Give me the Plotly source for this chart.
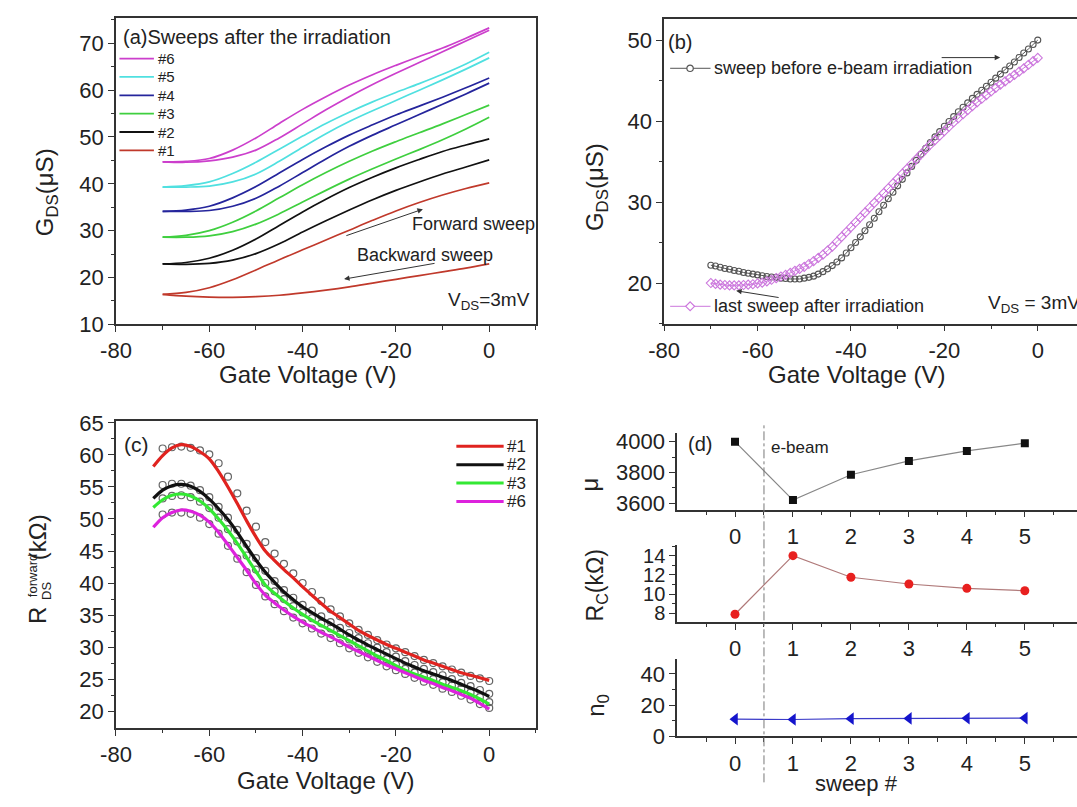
import plotly.graph_objects as go

W, H = 1077, 807
FONT = "Liberation Sans, Arial, Helvetica, sans-serif"
INK = "#222222"
AXC = "#333333"

# ---------------- (a) G_DS vs gate voltage, sweeps after irradiation ----------------
vg_a = [-70, -65, -60, -55, -50, -45, -40, -35, -30, -25, -20, -15, -10, -5, 0]
sweep_names_a = ["#1", "#2", "#3", "#4", "#5", "#6"]
sweep_colors_a = ["#c0392b", "#111111", "#3fcf3f", "#25259c", "#50e0e0", "#cc3fcc"]
g_fwd_1 = [16.4, 16.8, 17.8, 19.5, 21.6, 23.8, 25.9, 28.0, 30.1, 32.2, 34.2, 36.0, 37.6, 39.0, 40.2]
g_bwd_1 = [16.4, 16.0, 15.8, 15.75, 15.9, 16.2, 16.7, 17.3, 18.0, 18.8, 19.6, 20.4, 21.2, 22.0, 22.9]
g_fwd_2 = [22.9, 23.2, 24.1, 25.8, 28.2, 31.1, 34.0, 36.7, 39.2, 41.4, 43.4, 45.2, 46.9, 48.3, 49.6]
g_bwd_2 = [22.9, 22.8, 23.0, 23.7, 25.1, 27.2, 29.7, 32.1, 34.4, 36.6, 38.6, 40.4, 42.1, 43.6, 45.1]
g_fwd_3 = [28.6, 29.0, 30.0, 31.8, 34.2, 37.0, 39.8, 42.4, 44.8, 47.0, 49.0, 50.9, 52.8, 54.8, 56.8]
g_bwd_3 = [28.6, 28.6, 28.9, 29.8, 31.4, 33.6, 36.1, 38.6, 41.0, 43.2, 45.3, 47.3, 49.4, 51.7, 54.2]
g_fwd_4 = [34.1, 34.4, 35.2, 37.0, 39.4, 42.3, 45.2, 47.9, 50.4, 52.6, 54.7, 56.6, 58.5, 60.5, 62.6]
g_bwd_4 = [34.1, 34.1, 34.3, 35.2, 36.9, 39.5, 42.4, 45.3, 48.0, 50.4, 52.6, 54.8, 57.0, 59.2, 61.5]
g_fwd_5 = [39.3, 39.6, 40.4, 42.2, 44.6, 47.4, 50.2, 52.9, 55.3, 57.5, 59.5, 61.4, 63.4, 65.6, 68.1]
g_bwd_5 = [39.3, 39.3, 39.5, 40.4, 42.1, 44.8, 47.8, 50.7, 53.3, 55.6, 57.8, 60.0, 62.2, 64.5, 66.9]
g_fwd_6 = [44.7, 44.8, 45.4, 47.2, 49.8, 52.9, 55.9, 58.6, 61.1, 63.3, 65.3, 67.2, 69.0, 71.1, 73.3]
g_bwd_6 = [44.7, 44.6, 44.9, 45.7, 47.2, 49.8, 52.8, 55.8, 58.6, 61.2, 63.6, 65.9, 68.2, 70.5, 72.8]
g_fwd_a = [g_fwd_1, g_fwd_2, g_fwd_3, g_fwd_4, g_fwd_5, g_fwd_6]
g_bwd_a = [g_bwd_1, g_bwd_2, g_bwd_3, g_bwd_4, g_bwd_5, g_bwd_6]

# ---------------- (b) before vs last sweep after irradiation (1 V steps) ----------------
vg_b = [-70, -69, -68, -67, -66, -65, -64, -63, -62, -61,
        -60, -59, -58, -57, -56, -55, -54, -53, -52, -51,
        -50, -49, -48, -47, -46, -45, -44, -43, -42, -41,
        -40, -39, -38, -37, -36, -35, -34, -33, -32, -31,
        -30, -29, -28, -27, -26, -25, -24, -23, -22, -21,
        -20, -19, -18, -17, -16, -15, -14, -13, -12, -11,
        -10, -9, -8, -7, -6, -5, -4, -3, -2, -1, 0]
g_before = [22.2, 22.1, 21.95, 21.8, 21.7, 21.55, 21.45, 21.3, 21.2, 21.1,
            21.0, 20.9, 20.8, 20.75, 20.7, 20.6, 20.55, 20.5, 20.5, 20.5,
            20.6, 20.7, 20.85, 21.1, 21.4, 21.75, 22.15, 22.6, 23.1, 23.7,
            24.35, 25.0, 25.7, 26.45, 27.2, 28.0, 28.8, 29.6, 30.4, 31.2,
            32.0, 32.8, 33.6, 34.4, 35.15, 35.9, 36.65, 37.35, 38.05, 38.7,
            39.35, 39.95, 40.55, 41.15, 41.7, 42.25, 42.8, 43.3, 43.8, 44.3,
            44.8, 45.3, 45.8, 46.3, 46.8, 47.3, 47.85, 48.4, 48.9, 49.45, 50.0]
g_after = [20.0, 19.9, 19.8, 19.75, 19.7, 19.7, 19.7, 19.75, 19.8, 19.85,
           19.95, 20.05, 20.2, 20.4, 20.6, 20.8, 21.0, 21.25, 21.5, 21.75,
           22.0, 22.35, 22.7, 23.1, 23.5, 24.0, 24.5, 25.1, 25.7, 26.3,
           26.9, 27.5, 28.1, 28.7, 29.3, 29.9, 30.5, 31.1, 31.7, 32.3,
           32.9, 33.5, 34.1, 34.7, 35.3, 35.9, 36.5, 37.1, 37.65, 38.2,
           38.75, 39.3, 39.85, 40.35, 40.85, 41.35, 41.85, 42.3, 42.75, 43.2,
           43.65, 44.1, 44.5, 44.9, 45.3, 45.7, 46.1, 46.5, 46.95, 47.4, 47.8]

# ---------------- (c) forward resistance: measured (circles) and fits (lines) ----------------
vg_c_fit = [-72, -70, -68, -66, -64, -62, -60, -58, -56, -54, -52, -50, -48, -46, -44, -42, -40, -38,
            -36, -34, -32, -30, -28, -26, -24, -22, -20, -18, -16, -14, -12, -10, -8, -6, -4, -2, 0]
vg_c_data = [-70, -68, -66, -64, -62, -60, -58, -56, -54, -52, -50, -48, -46, -44, -42, -40, -38,
             -36, -34, -32, -30, -28, -26, -24, -22, -20, -18, -16, -14, -12, -10, -8, -6, -4, -2, 0]
sweep_names_c = ["#1", "#2", "#3", "#6"]
sweep_colors_c = ["#e0231f", "#111111", "#33e833", "#dd22dd"]
r_fit_1 = [58.2, 59.9, 61.1, 61.6, 61.3, 60.5, 59.4, 57.4, 55.0, 52.4, 49.7, 47.2, 45.0, 43.5, 42.1,
           40.8, 39.4, 38.1, 36.8, 35.6, 34.6, 33.6, 32.6, 31.8, 31.1, 30.4, 29.8, 29.2, 28.6, 28.0,
           27.5, 27.0, 26.5, 26.0, 25.6, 25.2, 24.8]
r_fit_2 = [53.2, 54.5, 55.2, 55.4, 55.1, 54.3, 53.1, 51.6, 49.9, 47.9, 45.7, 43.6, 41.7, 40.1, 38.6,
           37.4, 36.3, 35.4, 34.5, 33.7, 32.8, 31.9, 31.1, 30.3, 29.6, 28.9, 28.2, 27.5, 26.9, 26.3,
           25.8, 25.3, 24.8, 24.2, 23.6, 23.0, 22.3]
r_fit_3 = [51.8, 53.0, 53.7, 53.9, 53.6, 52.8, 51.6, 50.0, 48.2, 46.2, 44.0, 41.8, 39.7, 38.4, 37.2,
           36.1, 35.1, 34.2, 33.4, 32.6, 31.8, 31.0, 30.2, 29.4, 28.6, 27.9, 27.1, 26.4, 25.8, 25.3,
           24.8, 24.2, 23.7, 23.2, 22.6, 21.9, 21.1]
r_fit_6 = [48.7, 50.2, 51.0, 51.4, 51.2, 50.6, 49.5, 47.9, 46.0, 44.0, 42.0, 39.9, 38.1, 36.9, 35.8,
           34.8, 33.9, 33.1, 32.3, 31.6, 30.8, 30.0, 29.3, 28.6, 27.9, 27.2, 26.6, 26.0, 25.4, 24.8,
           24.3, 23.7, 23.2, 22.6, 22.0, 21.2, 20.3]
r_data_1 = [61.0, 61.2, 61.3, 61.1, 60.7, 60.1, 58.7, 56.6, 54.0, 51.3, 48.8, 46.4, 44.6, 43.0, 41.5,
            40.0, 38.6, 37.2, 35.9, 34.8, 33.7, 32.7, 31.9, 31.1, 30.4, 29.8, 29.2, 28.6, 28.0, 27.5,
            27.0, 26.5, 26.0, 25.5, 25.1, 24.7]
r_data_2 = [55.3, 55.5, 55.5, 55.2, 54.5, 53.4, 51.9, 50.2, 48.3, 46.1, 43.9, 41.9, 40.3, 38.9, 37.7,
            36.6, 35.7, 34.8, 33.9, 33.0, 32.2, 31.4, 30.6, 29.9, 29.2, 28.5, 27.8, 27.2, 26.6, 26.1,
            25.6, 25.0, 24.4, 23.9, 23.3, 22.7]
r_data_3 = [53.2, 53.6, 53.7, 53.4, 52.7, 51.7, 50.2, 48.4, 46.5, 44.3, 42.1, 40.0, 38.7, 37.5, 36.4,
            35.4, 34.5, 33.7, 32.9, 32.0, 31.2, 30.4, 29.6, 28.8, 28.1, 27.3, 26.6, 26.0, 25.5, 25.0,
            24.5, 24.0, 23.5, 22.9, 22.2, 21.4]
r_data_6 = [50.7, 51.0, 51.0, 50.8, 50.2, 49.2, 47.7, 45.8, 43.8, 41.7, 39.7, 37.9, 36.7, 35.6, 34.6,
            33.7, 32.9, 32.1, 31.4, 30.6, 29.8, 29.1, 28.4, 27.7, 27.0, 26.4, 25.8, 25.2, 24.6, 24.1,
            23.5, 23.0, 22.4, 21.8, 21.1, 20.5]
r_fit_c = [r_fit_1, r_fit_2, r_fit_3, r_fit_6]
r_data_c = [r_data_1, r_data_2, r_data_3, r_data_6]

# ---------------- (d) extracted parameters vs sweep number ----------------
sweep_d = [0, 1, 2, 3, 4, 5]
mobility = [4000, 3620, 3785, 3875, 3940, 3990]
contact_res = [7.9, 14.0, 11.75, 11.05, 10.6, 10.35]
n_zero = [11.0, 10.8, 11.3, 11.5, 11.6, 11.7]
ebeam_sweep = 0.5

# tick labels
vg_ticks = [-80, -60, -40, -20, 0]
vg_minor = [-70, -50, -30, -10, 10]
ga_ticks = [10, 20, 30, 40, 50, 60, 70]
gb_ticks = [20, 30, 40, 50]
rc_ticks = [20, 25, 30, 35, 40, 45, 50, 55, 60, 65]
d_x_ticks = [0, 1, 2, 3, 4, 5]
d_x_minor = [-0.5, 0.5, 1.5, 2.5, 3.5, 4.5, 5.5]
mu_ticks = [3600, 3800, 4000]
rc_d_ticks = [8, 10, 12, 14]
n0_ticks = [0, 20, 40]


def px(x):
    return x / W


def py(y):
    return 1 - y / H


def axis(dom, rng, ticks, minor, mirror, size=22):
    return dict(domain=dom, range=rng, tickmode="array", tickvals=ticks,
                ticktext=[str(t) for t in ticks], showline=True, linecolor=AXC, linewidth=1.5,
                mirror=mirror, ticks="outside", ticklen=6, tickwidth=1.3, tickcolor=AXC,
                showgrid=False, zeroline=False,
                tickfont=dict(family=FONT, size=size, color=INK),
                minor=dict(tickmode="array", tickvals=minor, ticks="outside", ticklen=3.5,
                           tickwidth=1.2, tickcolor=AXC, showgrid=False))


fig = go.Figure()

# (a)
for i, name in enumerate(sweep_names_a):
    for ys in (g_fwd_a[i], g_bwd_a[i]):
        fig.add_trace(go.Scatter(x=vg_a, y=ys, mode="lines", name=name, xaxis="x", yaxis="y",
                                 line=dict(color=sweep_colors_a[i], width=1.7, shape="spline",
                                           smoothing=1.0), showlegend=False))

# (b)
fig.add_trace(go.Scatter(x=vg_b, y=g_before, mode="lines+markers", xaxis="x2", yaxis="y2",
                         name="sweep before e-beam irradiation",
                         line=dict(color="#555555", width=1),
                         marker=dict(symbol="circle-open", size=6, color="#555555",
                                     line=dict(width=1.1)), showlegend=False))
fig.add_trace(go.Scatter(x=vg_b, y=g_after, mode="lines+markers", xaxis="x2", yaxis="y2",
                         name="last sweep after irradiation",
                         line=dict(color="#cc77dd", width=1),
                         marker=dict(symbol="diamond-open", size=7, color="#cc77dd",
                                     line=dict(width=1.1)), showlegend=False))

# (c)
for i, name in enumerate(sweep_names_c):
    fig.add_trace(go.Scatter(x=vg_c_data, y=r_data_c[i], mode="markers", xaxis="x3", yaxis="y3",
                             name=name + " data",
                             marker=dict(symbol="circle-open", size=7, color="#666666",
                                         line=dict(width=1.2)), showlegend=False))
for i, name in enumerate(sweep_names_c):
    fig.add_trace(go.Scatter(x=vg_c_fit, y=r_fit_c[i], mode="lines", xaxis="x3", yaxis="y3",
                             name=name, line=dict(color=sweep_colors_c[i], width=3.2,
                                                  shape="spline", smoothing=0.8),
                             showlegend=False))

# (d)
fig.add_trace(go.Scatter(x=sweep_d, y=mobility, mode="lines+markers", xaxis="x4", yaxis="y4",
                         name="mobility", line=dict(color="#888888", width=1.2),
                         marker=dict(symbol="square", size=8, color="#111111"), showlegend=False))
fig.add_trace(go.Scatter(x=sweep_d, y=contact_res, mode="lines+markers", xaxis="x5", yaxis="y5",
                         name="Rc", line=dict(color="#b07a7a", width=1.2),
                         marker=dict(symbol="circle", size=9, color="#e8201f"), showlegend=False))
fig.add_trace(go.Scatter(x=sweep_d, y=n_zero, mode="lines+markers", xaxis="x6", yaxis="y6",
                         name="n0", line=dict(color="#3a3ac8", width=1.2),
                         marker=dict(symbol="triangle-left", size=11, color="#1414cc"),
                         showlegend=False))

# ---------------- axes ----------------
xa = [101.5, 527.7]
xb = [657.9, 1077]
xd = [671.0, 1077]
layout_axes = dict(
    xaxis=axis([px(xa[0]), px(xa[1])], [-80, 10], vg_ticks, vg_minor, True),
    yaxis=axis([py(323.5), py(8.3)], [10, 75.4], ga_ticks, [15, 25, 35, 45, 55, 65, 75], True),
    xaxis2=axis([px(xb[0]), 1.0], [-80, 8.4], vg_ticks, vg_minor, True),
    yaxis2=axis([py(322.7), py(9.3)], [15.0, 52.6], gb_ticks, [15, 25, 35, 45], False),
    xaxis3=axis([px(xa[0]), px(xa[1])], [-80, 10], vg_ticks, vg_minor, True),
    yaxis3=axis([py(739.3), py(422.7)], [17.33, 65.35], rc_ticks,
                [22.5, 27.5, 32.5, 37.5, 42.5, 47.5, 52.5, 57.5, 62.5], True),
    xaxis4=axis([px(xd[0]), 1.0], [-1, 5.9], d_x_ticks, d_x_minor, False, 22),
    yaxis4=axis([py(514.3), py(435)], [3558, 4059], mu_ticks, [3700, 3900], False, 22),
    xaxis5=axis([px(xd[0]), 1.0], [-1, 5.9], d_x_ticks, d_x_minor, False, 22),
    yaxis5=axis([py(630), py(551)], [7.09, 15.08], rc_d_ticks, [9, 11, 13, 15], False, 20),
    xaxis6=axis([px(xd[0]), 1.0], [-1, 5.9], d_x_ticks, d_x_minor, False, 22),
    yaxis6=axis([py(747.7), py(668.3)], [0, 49.3], n0_ticks, [10, 30], False, 22),
)
for k, yk in (("xaxis", "y"), ("xaxis2", "y2"), ("xaxis3", "y3"), ("xaxis4", "y4"),
              ("xaxis5", "y5"), ("xaxis6", "y6")):
    layout_axes[k]["anchor"] = yk
for k, xk in (("yaxis", "x"), ("yaxis2", "x2"), ("yaxis3", "x3"), ("yaxis4", "x4"),
              ("yaxis5", "x5"), ("yaxis6", "x6")):
    layout_axes[k]["anchor"] = xk

annotations = []
shapes = []


def text(x, y, s, size, xanchor="left", yanchor="middle", angle=0, color=INK):
    annotations.append(dict(x=px(x), y=py(y), xref="paper", yref="paper", text=s,
                            showarrow=False, xanchor=xanchor, yanchor=yanchor, textangle=angle,
                            font=dict(family=FONT, size=size, color=color)))


def arrow(xt, yt, xh, yh):
    annotations.append(dict(x=px(xh), y=py(yh), xref="paper", yref="paper", text="",
                            ax=xt - xh, ay=yt - yh, axref="pixel", ayref="pixel",
                            showarrow=True, arrowhead=2, arrowsize=1.1, arrowwidth=1,
                            arrowcolor="#333333"))


def hline(x0, x1, y, color, width):
    shapes.append(dict(type="line", xref="paper", yref="paper", x0=px(x0), x1=px(x1),
                       y0=py(y), y1=py(y), line=dict(color=color, width=width)))


# (a) texts
text(107, 28, "(a)Sweeps after the irradiation", 20)
for k in range(6):
    idx = 5 - k
    yrow = 50 + 18.9 * k
    hline(105, 140, yrow, sweep_colors_a[idx], 1.8)
    text(142, yrow, sweep_names_a[idx], 15)
text(400, 220, "Forward sweep", 18)
text(344, 252, "Backward sweep", 18)
arrow(335, 232, 413, 205)
arrow(425, 261, 333, 277)
text(436, 300, "V<sub>DS</sub>=3mV", 19)
text(296, 375, "Gate Voltage (V)", 24, xanchor="center")
text(31, 188, "G<sub>DS</sub>(μS)", 24, xanchor="center", angle=-90)

# (b) texts
text(660, 33, "(b)", 20)
hline(664, 705, 60, "#555555", 1)
shapes.append(dict(type="circle", xref="paper", yref="paper", x0=px(681), x1=px(687.5),
                   y0=py(63.3), y1=py(56.7), fillcolor="white",
                   line=dict(color="#555555", width=1.2)))
text(707, 60, "sweep before e-beam irradiation", 18)
hline(664, 705, 305, "#cc77dd", 1)
shapes.append(dict(type="path", xref="paper", yref="paper",
                   path="M {a},{b} L {c},{d} L {a},{e} L {f},{d} Z".format(
                       a=px(684.3), b=py(300.5), c=px(688.8), d=py(305), e=py(309.5), f=px(679.8)),
                   fillcolor="white", line=dict(color="#cc77dd", width=1.2)))
text(707, 305, "last sweep after irradiation", 18)
arrow(939, 49, 999, 49)
arrow(775, 296, 731, 289)
text(985, 303, "V<sub>DS</sub> = 3mV", 19)
text(853, 375, "Gate Voltage (V)", 24, xanchor="center")
text(590, 182, "G<sub>DS</sub>(μS)", 24, xanchor="center", angle=-90)

# (c) texts
text(108, 447, "(c)", 21)
for k in range(4):
    yrow = 449 + 19 * k
    hline(447, 495, yrow, sweep_colors_c[k], 3)
    text(496, yrow, sweep_names_c[k], 17)
text(314, 793, "Gate Voltage (V)", 24, xanchor="center")
text(22, 623, "R", 24, xanchor="center", angle=-90)
text(31.5, 598, "DS", 13, xanchor="center", angle=-90)
text(17, 582, "forward", 13, xanchor="center", angle=-90)
text(22, 543, "(kΩ)", 24, xanchor="center", angle=-90)

# (d) texts
text(680, 447, "(d)", 20)
text(764, 450, "e-beam", 17)
text(582, 488, "μ", 24, xanchor="center", angle=-90)
text(589, 592, "R<sub>C</sub>(kΩ)", 23, xanchor="center", angle=-90)
text(590, 716, "n<sub>0</sub>", 24, xanchor="center", angle=-90)
text(853, 796, "sweep #", 22, xanchor="center")
shapes.append(dict(type="line", xref="x4", yref="paper", x0=ebeam_sweep, x1=ebeam_sweep,
                   y0=py(795), y1=py(425), line=dict(color="#777777", width=1, dash="dashdot")))

fig.update_layout(width=W, height=H, margin=dict(l=0, r=0, t=0, b=0), paper_bgcolor="white",
                  plot_bgcolor="white", showlegend=False, annotations=annotations, shapes=shapes,
                  font=dict(family=FONT, color=INK), **layout_axes)

fig.write_html("out.html")
